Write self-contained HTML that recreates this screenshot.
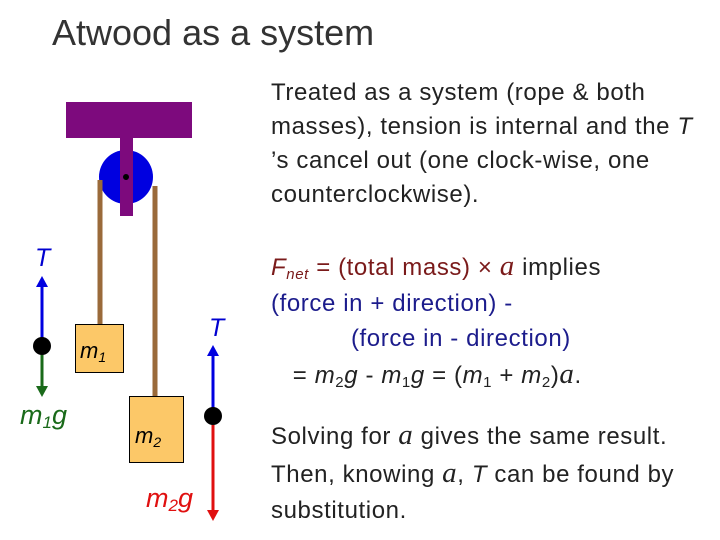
<!DOCTYPE html>
<html><head><meta charset="utf-8"><style>
body{margin:0;width:720px;height:540px;background:#fff;position:relative;overflow:hidden;font-family:"Liberation Sans",sans-serif;}
.t{position:absolute;white-space:nowrap;font-size:24px;line-height:34px;color:#222;letter-spacing:0.6px}
i{font-style:italic}
sub{font-size:15px;vertical-align:-4px;line-height:0}
.a{font-family:"Liberation Serif",serif;font-style:italic;font-size:29px}
</style></head><body>
<div class="t" style="left:52px;top:11px;font-size:36px;line-height:44px;color:#333;letter-spacing:0">Atwood as a system</div>
<div class="t" style="left:271px;top:76px">Treated as a system (rope &amp; both<br>masses), tension is internal and the <i>T</i><br>’s cancel out (one clock-wise, one<br>counterclockwise).</div>
<div class="t" style="left:271px;top:249px;line-height:35.5px">
<span style="color:#7a1a1a"><i>F</i><sub><i>net</i></sub> = (total mass) × <span class="a">a</span></span> implies<br>
<span style="color:#1c1c8c">(force in + direction) -<br>&nbsp;&nbsp;&nbsp;&nbsp;&nbsp;&nbsp;&nbsp;&nbsp;&nbsp;&nbsp;&nbsp;(force in - direction)</span><br>
&nbsp;&nbsp;&nbsp;= <i>m</i><sub>2</sub><i>g</i> - <i>m</i><sub>1</sub><i>g</i> = (<i>m</i><sub>1</sub> + <i>m</i><sub>2</sub>)<span class="a">a</span>.</div>
<div class="t" style="left:271px;top:417px;line-height:36px">Solving for <span class="a">a</span> gives the same result.<br>Then, knowing <span class="a">a</span>, <i>T</i> can be found by<br>substitution.</div>
<svg width="260" height="540" style="position:absolute;left:0;top:0">
<rect x="66" y="102" width="126" height="36" fill="#7d0a7d"/>
<circle cx="126" cy="177" r="27" fill="#0000e0"/>
<line x1="100" y1="180" x2="100" y2="324" stroke="#9a6a3a" stroke-width="5"/>
<line x1="155" y1="186" x2="155" y2="396" stroke="#9a6a3a" stroke-width="5"/>
<rect x="120" y="138" width="13" height="78" fill="#7d0a7d"/>
<circle cx="126" cy="177" r="3" fill="#000"/>
<rect x="75.5" y="324.5" width="48" height="48" fill="#fcc868" stroke="#000"/>
<rect x="129.5" y="396.5" width="54" height="66" fill="#fcc868" stroke="#000"/>
<line x1="42" y1="346" x2="42" y2="285" stroke="#0000e0" stroke-width="3"/>
<polygon points="36,287 48,287 42,276" fill="#0000e0"/>
<line x1="42" y1="355" x2="42" y2="388" stroke="#1a6a1a" stroke-width="3"/>
<polygon points="36,386 48,386 42,397" fill="#1a6a1a"/>
<circle cx="42" cy="346" r="9" fill="#000"/>
<line x1="213" y1="416" x2="213" y2="354" stroke="#0000e0" stroke-width="3"/>
<polygon points="207,356 219,356 213,345" fill="#0000e0"/>
<line x1="213" y1="425" x2="213" y2="512" stroke="#e01010" stroke-width="3"/>
<polygon points="207,510 219,510 213,521" fill="#e01010"/>
<circle cx="213" cy="416" r="9" fill="#000"/>
<g font-family="Liberation Sans,sans-serif" font-style="italic" font-size="25">
<text x="35" y="266" fill="#0000d0">T</text>
<text x="209" y="336" fill="#0000d0">T</text>
<text x="20" y="424" fill="#1a6a1a" font-size="27">m<tspan font-size="17" dy="4">1</tspan><tspan dy="-4">g</tspan></text>
<text x="146" y="507" fill="#e01010" font-size="27">m<tspan font-size="17" dy="4">2</tspan><tspan dy="-4">g</tspan></text>
<text x="80" y="358" fill="#000" font-size="22">m<tspan font-size="14" dy="4">1</tspan></text>
<text x="135" y="443" fill="#000" font-size="22">m<tspan font-size="14" dy="4">2</tspan></text>
</g>
</svg>
</body></html>
